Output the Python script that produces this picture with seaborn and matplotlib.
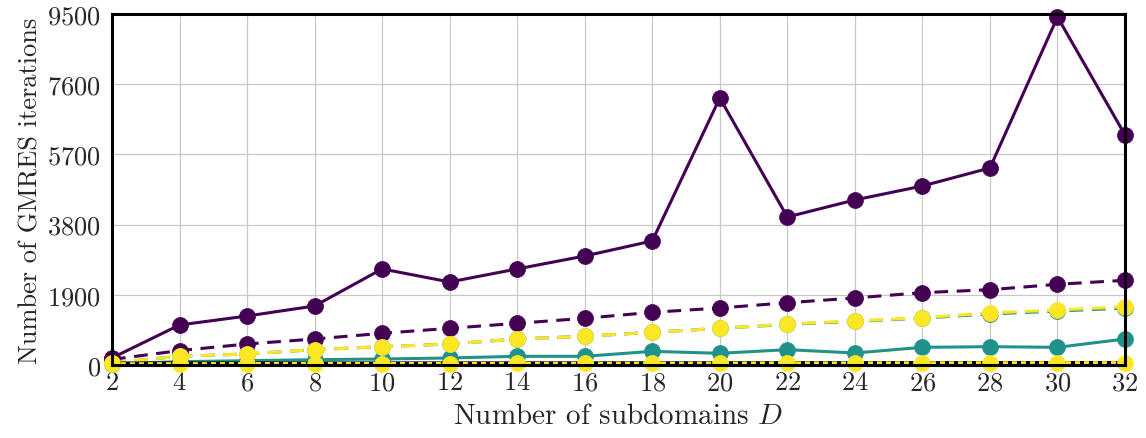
import numpy as np
import pandas as pd
import matplotlib
matplotlib.use("Agg")
import matplotlib.pyplot as plt
import seaborn as sns

D = [2, 4, 6, 8, 10, 12, 14, 16, 18, 20, 22, 24, 26, 28, 30, 32]
purple_solid = [190, 1083, 1326, 1597, 2600, 2247, 2600, 2950, 3357, 7228, 4006, 4467, 4845, 5333, 9420, 6226]
purple_dashed = [150, 390, 568, 704, 857, 993, 1128, 1264, 1426, 1543, 1685, 1814, 1958, 2038, 2184, 2293]
teal_solid = [30, 90, 116, 144, 162, 190, 235, 235, 370, 316, 415, 325, 478, 496, 478, 704]
teal_dashed = [60, 235, 298, 415, 496, 568, 704, 777, 885, 993, 1100, 1180, 1270, 1380, 1460, 1540]
yellow_dashed = [60, 235, 298, 415, 496, 568, 704, 777, 885, 993, 1110, 1191, 1281, 1408, 1489, 1578]
yellow_solid = [30, 32, 34, 36, 38, 40, 42, 44, 46, 48, 50, 52, 54, 56, 58, 60]
black_dotted = [45, 46, 47, 48, 49, 50, 51, 52, 53, 54, 55, 56, 57, 58, 59, 60]
yticks = [0, 1900, 3800, 5700, 7600, 9500]

sns.set_theme(style="whitegrid")
plt.rcParams["font.family"] = ["serif"]
plt.rcParams["font.serif"] = ["cmr10", "DejaVu Serif"]
plt.rcParams["mathtext.fontset"] = "cm"
plt.rcParams["axes.formatter.use_mathtext"] = True

fig = plt.figure(figsize=(11.46, 4.39), dpi=100)
ax = fig.add_axes([0.0977, 0.1663, 0.8840, 0.7995])

purple = "#440154"
teal = "#21918c"
yellow = "#fde725"
lw = 2.2
ms = 11.5
dash = (0, (4.5, 2.8))

def draw(y, color, ls, marker=True, zorder=3, width=lw):
    sns.lineplot(x=D, y=y, ax=ax, color=color, linestyle=ls, linewidth=width,
                 marker="o" if marker else None, markersize=ms,
                 markeredgecolor=color, markeredgewidth=0.5,
                 clip_on=False, zorder=zorder, legend=False)

draw(purple_solid, purple, "-")
draw(purple_dashed, purple, dash)
draw(teal_solid, teal, "-")
draw(teal_dashed, teal, dash)
draw(yellow_dashed, yellow, dash)
draw(black_dotted, "black", "-", marker=False, zorder=3, width=2.6)
draw(yellow_solid, yellow, (0, (1.5, 1.2)), zorder=4, width=2.4)

ax.set_xlim(2, 32)
ax.set_ylim(0, 9500)
ax.set_xticks(D)
ax.set_yticks(yticks)
ax.tick_params(axis="both", labelsize=19, length=4, direction="in", color="#888888")
ax.tick_params(axis="y", pad=8)
ax.tick_params(axis="x", pad=4)
ax.grid(True, color="#c8c8c8", linewidth=0.9)
for s in ax.spines.values():
    s.set_color("black")
    s.set_linewidth(2.2)
    s.set_zorder(5)
ax.set_xlabel("Number of subdomains $D$", fontsize=21, labelpad=6)
ax.set_ylabel("Number of GMRES iterations", fontsize=19, labelpad=3)

fig.savefig("out.png", dpi=100)
